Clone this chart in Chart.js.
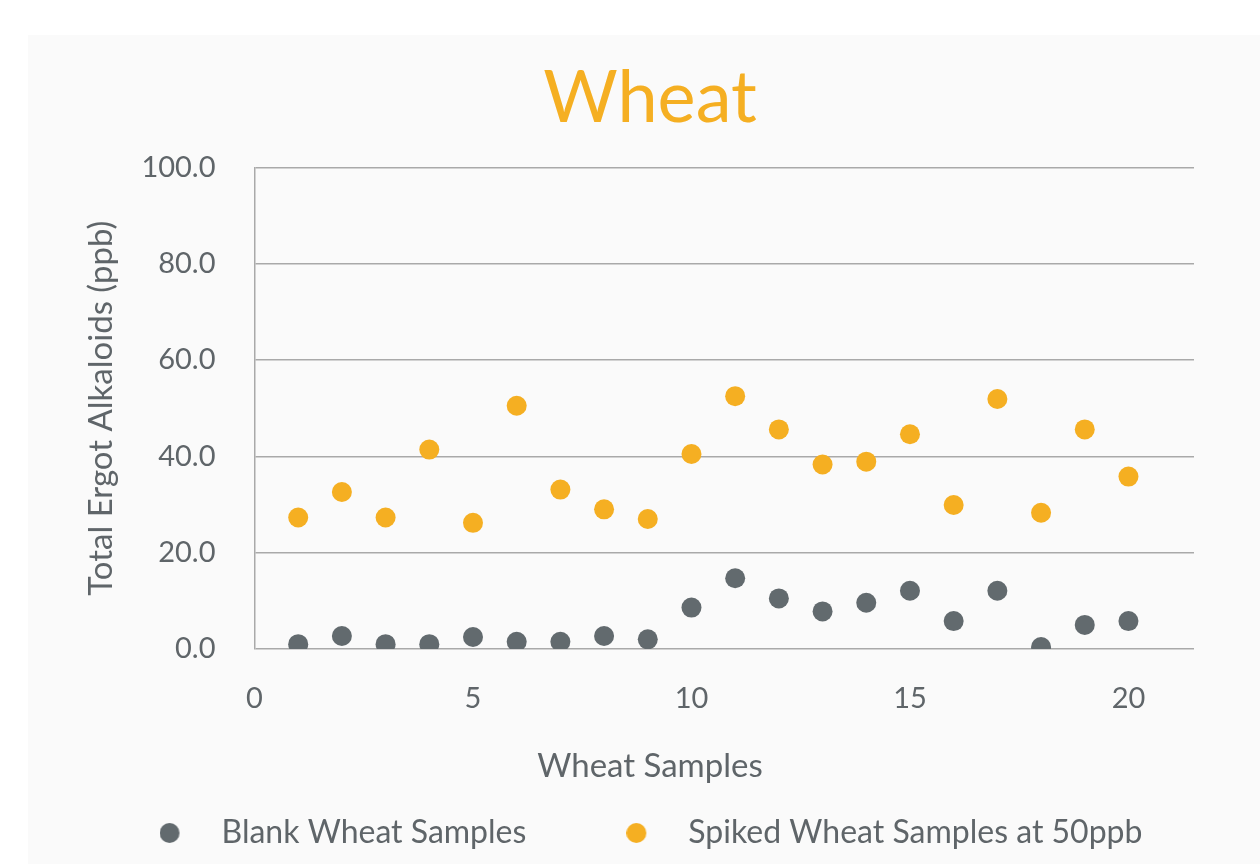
<!DOCTYPE html>
<html>
<head>
<meta charset="utf-8">
<script src="https://cdn.jsdelivr.net/npm/chart.js@4.4.1/dist/chart.umd.min.js"></script>
<style>
  body { margin: 0; background: #ffffff; }
  #panel { position: absolute; left: 28px; top: 35px; width: 1232px; height: 829px; background: #fafafa; }
</style>
</head>
<body>
<div id="panel"><canvas id="grafico" width="1232" height="829"></canvas></div>
<script>
// datos
const muestras = [1, 2, 3, 4, 5, 6, 7, 8, 9, 10, 11, 12, 13, 14, 15, 16, 17, 18, 19, 20];
const blancos = [1.0, 2.7, 1.0, 1.0, 2.5, 1.5, 1.5, 2.7, 2.0, 8.6, 14.7, 10.5, 7.8, 9.6, 12.1, 5.8, 12.1, 0.4, 5.0, 5.8];
const fortificados = [27.3, 32.6, 27.3, 41.4, 26.2, 50.5, 33.1, 29.0, 27.0, 40.5, 52.5, 45.6, 38.3, 38.9, 44.6, 29.9, 51.9, 28.3, 45.6, 35.8];
const ticksX = [0, 5, 10, 15, 20];
const ticksY = [0, 20, 40, 60, 80, 100];

const gris = '#626a6e';
const naranja = '#f5af22';
const textoGris = '#5f6569';

Chart.defaults.font.family = 'Lato, "Open Sans", sans-serif';
Chart.defaults.color = textoGris;

// marcador de leyenda: el círculo va a la izquierda de la caja
function marcador(color) {
    const c = document.createElement('canvas');
    c.width = 44;
    c.height = 20;
    const g = c.getContext('2d');
    g.fillStyle = color;
    g.beginPath();
    g.arc(10, 10, 10, 0, Math.PI * 2);
    g.fill();
    return c;
}

const ctx = document.getElementById('grafico').getContext('2d');
new Chart(ctx, {
    type: 'scatter',
    data: {
        datasets: [{
            label: 'Blank Wheat Samples',
            data: muestras.map((m, i) => ({ x: m, y: blancos[i] })),
            backgroundColor: gris,
            borderColor: gris,
            pointRadius: 10,
            pointHoverRadius: 10,
            borderWidth: 0
        }, {
            label: 'Spiked Wheat Samples at 50ppb',
            data: muestras.map((m, i) => ({ x: m, y: fortificados[i] })),
            backgroundColor: naranja,
            borderColor: naranja,
            pointRadius: 10,
            pointHoverRadius: 10,
            borderWidth: 0
        }]
    },
    options: {
        responsive: false,
        animation: false,
        devicePixelRatio: 1,
        layout: { padding: { top: 0, right: 0, bottom: 5, left: 12 } },
        plugins: {
            tooltip: { enabled: false },
            title: {
                display: true,
                text: 'Wheat',
                color: naranja,
                font: { size: 72, weight: 'normal' },
                padding: { top: 21, bottom: 25 }
            },
            // título del eje X, centrado en todo el gráfico
            subtitle: {
                display: true,
                position: 'bottom',
                weight: 500,
                text: 'Wheat Samples',
                color: textoGris,
                font: { size: 33, weight: 'normal' },
                padding: { top: 27.2, bottom: -66.8 }
            },
            legend: {
                position: 'bottom',
                labels: {
                    usePointStyle: true,
                    pointStyleWidth: 48,
                    boxHeight: 20,
                    padding: 98,
                    color: textoGris,
                    font: { size: 32 },
                    generateLabels: function(chart) {
                        const items = Chart.defaults.plugins.legend.labels.generateLabels(chart);
                        items.forEach(it => {
                            it.pointStyle = marcador(chart.data.datasets[it.datasetIndex].backgroundColor);
                        });
                        return items;
                    }
                }
            }
        },
        scales: {
            x: {
                type: 'linear',
                min: 0,
                max: 21.5,
                afterBuildTicks: scale => { scale.ticks = ticksX.map(v => ({ value: v })); },
                afterFit: scale => { scale.height = 70; },
                grid: { display: false, drawTicks: false },
                border: { display: false },
                ticks: { padding: 32, font: { size: 29 }, color: textoGris }
            },
            y: {
                min: 0,
                max: 100,
                afterBuildTicks: scale => { scale.ticks = ticksY.map(v => ({ value: v })); },
                afterFit: scale => { scale.width = 214.5; },
                grid: { color: '#a9a9a9', lineWidth: 1.5, drawTicks: false },
                border: { display: true, color: '#a9a9a9', width: 1.5 },
                ticks: {
                    padding: 39,
                    font: { size: 29 },
                    color: textoGris,
                    callback: v => v.toFixed(1)
                },
                title: {
                    display: true,
                    text: 'Total Ergot Alkaloids (ppb)',
                    color: textoGris,
                    font: { size: 33 },
                    padding: { top: 41.2, bottom: 0 }
                }
            },
            // eje vacío a la derecha, solo reserva el margen
            margenDer: {
                type: 'linear',
                position: 'right',
                min: 0,
                max: 100,
                afterFit: scale => { scale.width = 66; },
                grid: { display: false, drawTicks: false },
                border: { display: false },
                ticks: { display: false }
            }
        }
    }
});
</script>
</body>
</html>
